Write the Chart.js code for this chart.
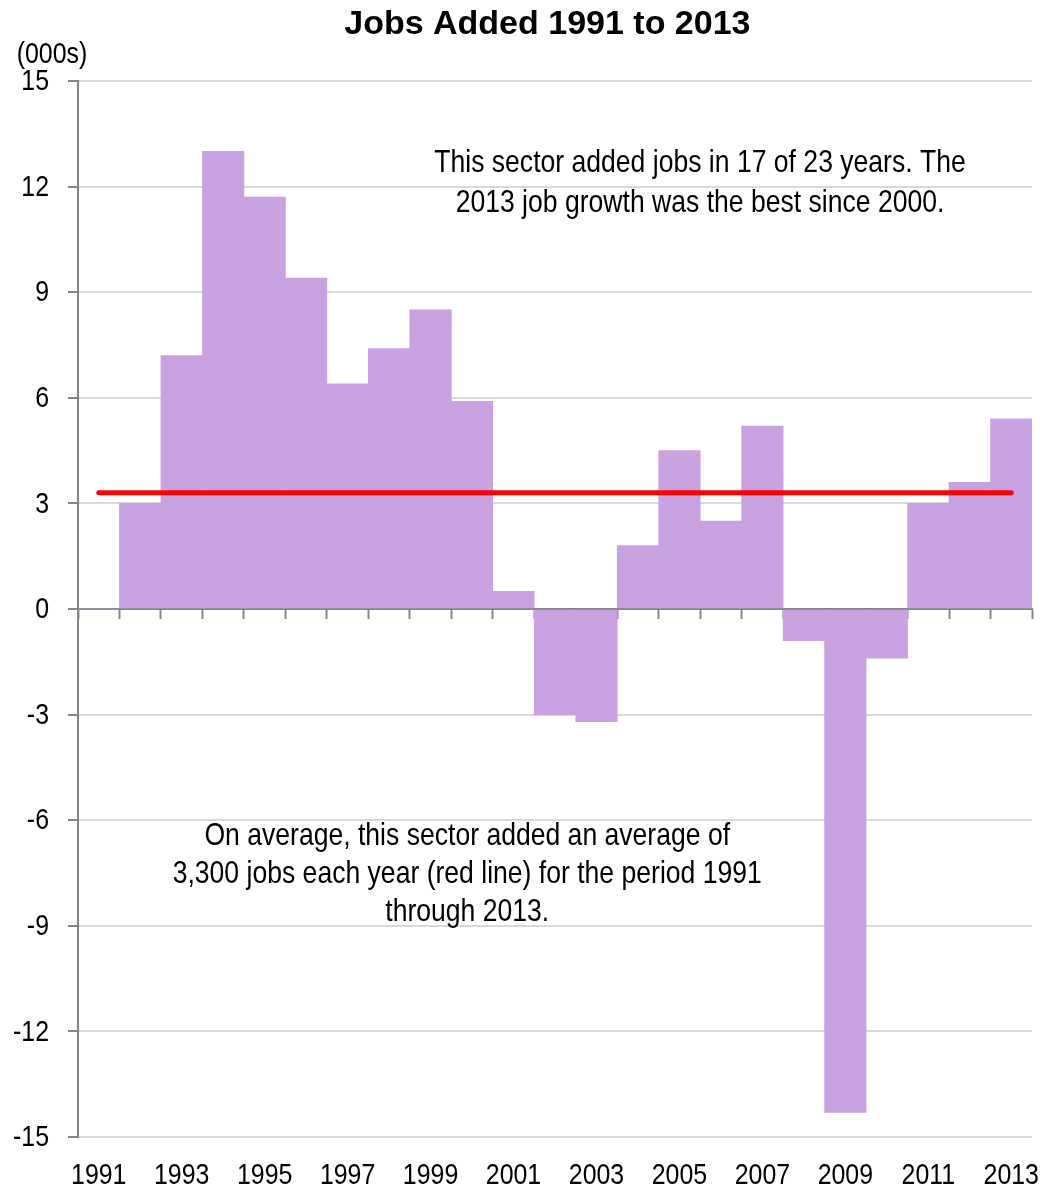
<!DOCTYPE html>
<html>
<head>
<meta charset="utf-8">
<title>Jobs Added 1991 to 2013</title>
<script src="https://cdn.jsdelivr.net/npm/chart.js@4.4.1/dist/chart.umd.min.js"></script>
<style>
  html, body { margin: 0; padding: 0; background: #fff; }
  #wrap { position: relative; width: 1052px; height: 1189px; }
</style>
</head>
<body>
<div id="wrap"><canvas id="jobsChart"></canvas></div>
<script>
// jobs added per year, in thousands
const years = ["1991", "1992", "1993", "1994", "1995", "1996", "1997", "1998", "1999", "2000",
               "2001", "2002", "2003", "2004", "2005", "2006", "2007", "2008", "2009", "2010",
               "2011", "2012", "2013"];
const jobsAdded = [0, 3.0, 7.2, 13.0, 11.7, 9.4, 6.4, 7.4, 8.5, 5.9,
                   0.5, -3.0, -3.2, 1.8, 4.5, 2.5, 5.2, -0.9, -14.3, -1.4,
                   3.0, 3.6, 5.4];
const averageAdded = 3.3;
const yMin = -15;
const yMax = 15;
const yStep = 3;

const titleText = "Jobs Added 1991 to 2013";
const unitLabel = "(000s)";
const noteTop = ["This sector added jobs in 17 of 23 years. The",
                 "2013 job growth was the best since 2000."];
const noteBottom = ["On average, this sector added an average of",
                    "3,300 jobs each year (red line) for the period 1991",
                    "through 2013."];

const FONT = "'Liberation Sans', Arial, sans-serif";
const AXIS_GRAY = "#868686";
const SQUEEZE = 0.83;   // no narrow face installed, so labels are condensed by hand

function narrowText(ctx, text, x, y, align) {
    ctx.save();
    ctx.translate(x, y);
    ctx.scale(SQUEEZE, 1);
    ctx.textAlign = align;
    ctx.fillText(text, 0, 0);
    ctx.restore();
}

// title, tick labels, unit label and the two notes
const textPlugin = {
    id: "chartText",
    afterDraw(chart) {
        const { ctx, chartArea } = chart;
        const xs = chart.scales.x;
        const ys = chart.scales.y;
        const w = chartArea.right - chartArea.left;
        const h = chartArea.bottom - chartArea.top;
        ctx.save();
        ctx.fillStyle = "#000";
        ctx.textBaseline = "middle";

        ctx.font = "bold 34px " + FONT;
        ctx.textAlign = "center";
        ctx.fillText(titleText, chartArea.left + w * 0.492, 25);

        ctx.font = "30px " + FONT;
        narrowText(ctx, unitLabel, chartArea.left - 26, chartArea.top - 26, "center");

        ys.ticks.forEach(t => {
            narrowText(ctx, String(t.value), chartArea.left - 29, ys.getPixelForValue(t.value) + 1, "right");
        });
        years.forEach((yr, i) => {
            if (i % 2 === 0) {
                narrowText(ctx, yr, xs.getPixelForValue(i), chartArea.bottom + 39, "center");
            }
        });

        ctx.font = "32px " + FONT;
        noteTop.forEach((line, i) => {
            narrowText(ctx, line, chartArea.left + w * 0.652, chartArea.top + h * 0.078 + i * 40, "center");
        });
        noteBottom.forEach((line, i) => {
            narrowText(ctx, line, chartArea.left + w * 0.408, chartArea.top + h * 0.715 + i * 38, "center");
        });
        ctx.restore();
    }
};

const ctx = document.getElementById("jobsChart");
new Chart(ctx, {
    data: {
        labels: years,
        datasets: [{
            type: "line",
            label: "Average",
            data: years.map(() => averageAdded),
            borderColor: "#ff0000",
            borderWidth: 5,
            borderCapStyle: "round",
            pointRadius: 0,
            fill: false,
            order: 0
        }, {
            type: "bar",
            label: "Jobs added",
            data: jobsAdded,
            backgroundColor: "rgb(200,161,225)",
            borderWidth: 0,
            barPercentage: 1,
            categoryPercentage: 1,
            order: 1
        }]
    },
    options: {
        responsive: true,
        maintainAspectRatio: false,
        animation: false,
        layout: {
            padding: { left: 68, right: 20, top: 81, bottom: 52 }
        },
        plugins: {
            legend: { display: false },
            tooltip: { enabled: false },
            title: { display: false }
        },
        scales: {
            x: {
                type: "category",
                position: "bottom",
                offset: true,
                grid: { display: false, drawTicks: false },
                border: { display: false },
                ticks: { display: false }
            },
            // zero line with category ticks, drawn over the bars
            zero: {
                type: "category",
                axis: "x",
                position: { y: 0 },
                offset: true,
                z: 1,
                grid: {
                    display: true,
                    offset: true,
                    drawOnChartArea: false,
                    drawTicks: true,
                    tickLength: 9,
                    tickWidth: 2,
                    tickColor: AXIS_GRAY
                },
                border: { display: true, color: AXIS_GRAY, width: 2 },
                ticks: { display: false }
            },
            y: {
                min: yMin,
                max: yMax,
                grid: {
                    color: "#d9d9d9",
                    lineWidth: 2,
                    drawTicks: true,
                    tickLength: 10,
                    tickWidth: 2,
                    tickColor: AXIS_GRAY
                },
                border: { display: true, color: AXIS_GRAY, width: 2 },
                ticks: { display: false, stepSize: yStep }
            }
        }
    },
    plugins: [textPlugin]
});
</script>
</body>
</html>
